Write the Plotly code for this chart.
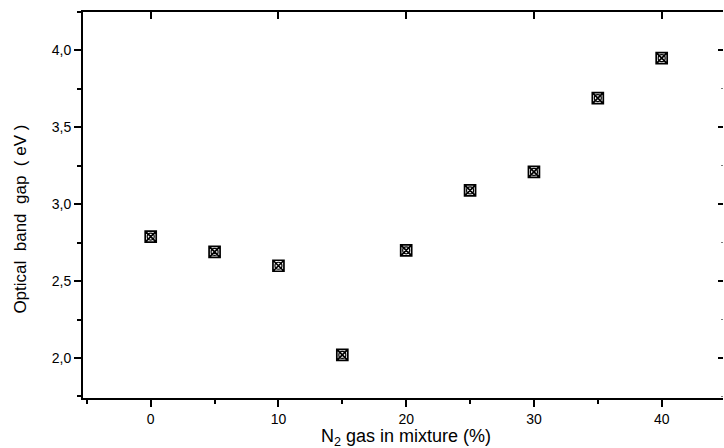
import plotly.graph_objects as go

n2_percent = [0, 5, 10, 15, 20, 25, 30, 35, 40]
band_gap_ev = [2.79, 2.69, 2.60, 2.02, 2.70, 3.09, 3.21, 3.69, 3.95]

x_tick_vals = [0, 10, 20, 30, 40]
y_tick_vals = [2.0, 2.5, 3.0, 3.5, 4.0]

x_range = [-5.3, 44.8]
y_range = [1.74, 4.25]

x_title = "N<sub>2</sub> gas in mixture (%)"
y_title = "Optical  band  gap  ( eV )"

fig = go.Figure()
fig.add_trace(go.Scatter(
    x=n2_percent, y=band_gap_ev, mode="markers",
    marker=dict(symbol="square-x-open", size=11, color="black",
                line=dict(color="black", width=1.7)),
    showlegend=False, hoverinfo="x+y"))
fig.add_trace(go.Scatter(
    x=n2_percent, y=band_gap_ev, mode="markers",
    marker=dict(symbol="circle-open", size=7, color="black",
                line=dict(color="black", width=1.2)),
    showlegend=False, hoverinfo="skip"))
# invisible trace to anchor the mirrored (top/right) axes
fig.add_trace(go.Scatter(
    x=n2_percent, y=band_gap_ev, xaxis="x2", yaxis="y2", mode="markers",
    marker=dict(opacity=0), showlegend=False, hoverinfo="skip"))

font_family = "Liberation Sans, Arial, sans-serif"

fig.update_layout(
    template="none",
    width=724, height=448,
    margin=dict(l=83, r=1, t=12, b=50, pad=0),
    paper_bgcolor="white", plot_bgcolor="white",
    separators=",.",
    font=dict(family=font_family, size=14, color="black"),
    xaxis=dict(
        range=x_range, tickvals=x_tick_vals, ticks="outside", ticklen=7,
        tickwidth=2, tickcolor="black", showline=True, linecolor="black",
        linewidth=2, showgrid=False, zeroline=False, automargin=False,
        tickfont=dict(size=14),
        minor=dict(dtick=5, tick0=0, ticks="outside", ticklen=4, tickwidth=1.5,
                   tickcolor="black", showgrid=False),
    ),
    yaxis=dict(
        range=y_range, tickvals=y_tick_vals, tickformat=".1f",
        ticks="outside", ticklen=7, tickwidth=2, tickcolor="black",
        showline=True, linecolor="black", linewidth=2, showgrid=False,
        zeroline=False, automargin=False, tickfont=dict(size=14),
        minor=dict(dtick=0.25, tick0=0, ticks="outside", ticklen=4, tickwidth=1.5,
                   tickcolor="black", showgrid=False),
    ),
    xaxis2=dict(
        range=x_range, overlaying="x", side="top", anchor="y",
        tickvals=x_tick_vals, ticks="inside", ticklen=7, tickwidth=2,
        tickcolor="black", showticklabels=False, showline=True,
        linecolor="black", linewidth=2, showgrid=False, zeroline=False,
        automargin=False,
    ),
    yaxis2=dict(
        range=y_range, overlaying="y", side="right", anchor="x",
        tickvals=y_tick_vals, ticks="inside", ticklen=5, tickwidth=2,
        tickcolor="black", showticklabels=False, showline=False,
        showgrid=False, zeroline=False, automargin=False,
        minor=dict(dtick=0.25, tick0=0, ticks="inside", ticklen=2, tickwidth=1,
                   tickcolor="#777777", showgrid=False),
    ),
    annotations=[
        dict(text=x_title, xref="paper", yref="paper", x=0.505, y=0,
             xanchor="center", yanchor="top", yshift=-26, showarrow=False,
             font=dict(size=18)),
        dict(text=y_title, xref="paper", yref="y", x=0, y=2.9,
             xanchor="center", yanchor="middle", xshift=-62, textangle=-90,
             showarrow=False, font=dict(size=17)),
    ],
)

fig.write_html("out.html", config={"displayModeBar": False},
               post_script="document.body.style.margin='0px';")
